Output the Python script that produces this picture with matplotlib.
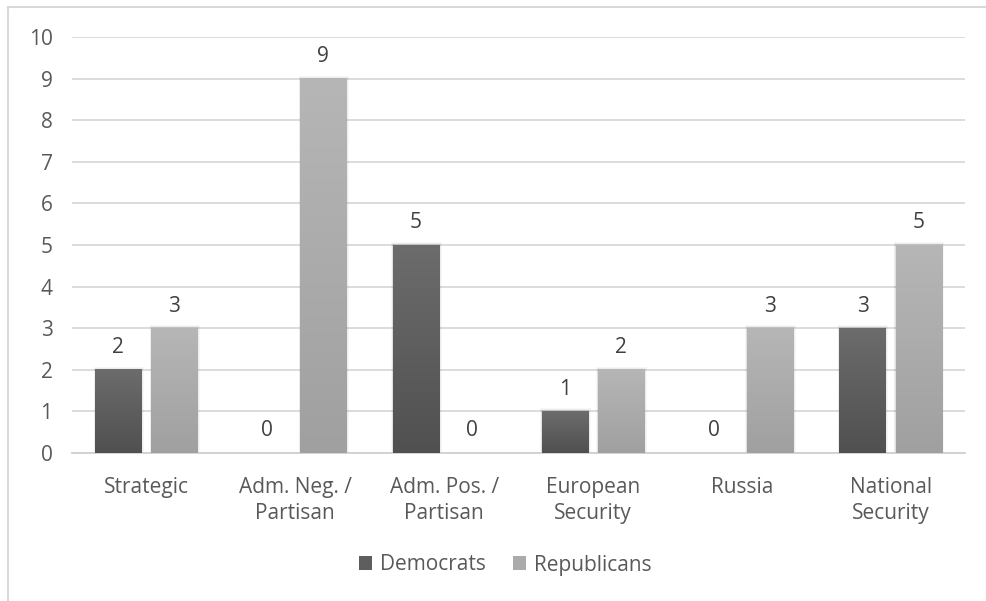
import matplotlib
matplotlib.use("Agg")
import matplotlib.pyplot as plt
import numpy as np
from matplotlib.patches import Rectangle

categories = ["Strategic", "Adm. Neg. /\nPartisan", "Adm. Pos. /\nPartisan",
              "European\nSecurity", "Russia", "National\nSecurity"]
democrats = [2, 0, 5, 1, 0, 3]
republicans = [3, 9, 0, 2, 3, 5]
series_names = ["Democrats", "Republicans"]

plt.rcParams['font.family'] = ['Open Sans', 'DejaVu Sans']
FS = 15

fig = plt.figure(figsize=(9.86, 6.01), dpi=100)
fig.patch.set_facecolor("white")

# outer chart border (light gray)
fig.add_artist(Rectangle((8/986, -0.01), 1.0, 1 - 7/601 + 0.01, transform=fig.transFigure,
                         fill=False, edgecolor="#d9d9d9", lw=1.5))

ax = fig.add_axes([72/986, 1 - 453/601, (965 - 72)/986, (453 - 37)/601])

x = np.arange(len(categories))
w = 0.31
gap = 0.067
off = (w + gap) / 2

dark_cmap = matplotlib.colors.LinearSegmentedColormap.from_list("d", ["#505050", "#6c6c6c"])
light_cmap = matplotlib.colors.LinearSegmentedColormap.from_list("l", ["#a0a0a0", "#b6b6b6"])

grad = np.linspace(0, 1, 256).reshape(-1, 1)

def draw(vals, xs, cmap, label):
    bars = ax.bar(xs, vals, w, color="none", edgecolor="none", label=label, zorder=3)
    for b, v in zip(bars, vals):
        if v <= 0:
            continue
        x0, y0 = b.get_x(), b.get_y()
        for i, a in enumerate([0.05, 0.04, 0.03]):
            s = (i + 1) * 0.012
            ax.add_patch(Rectangle((x0 - s * 0.3, y0), b.get_width() + 2 * s * 0.3 + s * 0.2,
                                   b.get_height() + s * 2, facecolor="black", alpha=a,
                                   edgecolor="none", zorder=2))
        ax.imshow(grad, extent=[x0, x0 + b.get_width(), y0, y0 + b.get_height()],
                  origin="lower", cmap=cmap, aspect="auto", zorder=3)
    for xi, v in zip(xs, vals):
        ax.text(xi, v + 0.28, str(v), ha="center", va="bottom", fontsize=FS,
                color="#404040", zorder=4)
    return bars

draw(democrats, x - off, dark_cmap, series_names[0])
draw(republicans, x + off, light_cmap, series_names[1])

ax.set_xlim(-0.5, len(categories) - 0.5)
ax.set_ylim(0, 10)
ax.set_yticks(range(0, 11))
ax.yaxis.grid(True, color="#d9d9d9", lw=1.3, zorder=0)
ax.set_axisbelow(True)
for s in ["top", "right", "left"]:
    ax.spines[s].set_visible(False)
ax.spines["bottom"].set_color("#d0d0d0")
ax.spines["bottom"].set_linewidth(1.3)
ax.tick_params(axis="both", length=0, labelsize=FS, labelcolor="#595959")
ax.tick_params(axis="y", pad=14)
ax.tick_params(axis="x", pad=17)
ax.set_xticks(x)
ax.set_xticklabels(categories, linespacing=1.35)

handles = [Rectangle((0, 0), 1, 1, facecolor="#5e5e5e", edgecolor="none"),
           Rectangle((0, 0), 1, 1, facecolor="#ababab", edgecolor="none")]
fig.legend(handles, series_names, loc="center", bbox_to_anchor=(505/986, 1 - 565/601),
           ncol=2, frameon=False, fontsize=FS, labelcolor="#595959",
           handlelength=0.65, handleheight=0.65, handletextpad=0.35, columnspacing=1.3)

fig.savefig("out.png", dpi=100, facecolor="white")
